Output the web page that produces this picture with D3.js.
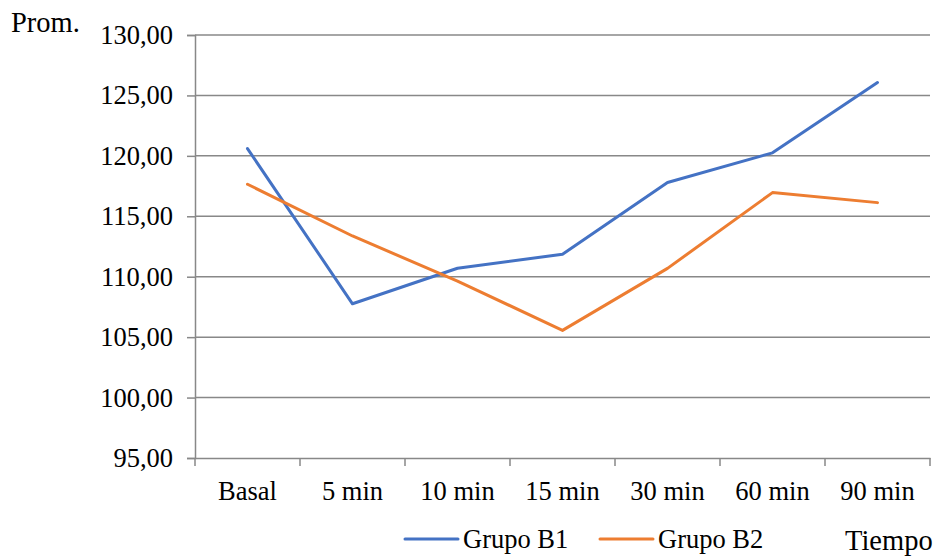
<!DOCTYPE html>
<html><head><meta charset="utf-8">
<script src="https://cdn.jsdelivr.net/npm/d3@7"></script>
<style>
html,body{margin:0;padding:0;background:#fff;}
text{font-family:"Liberation Serif","Times New Roman",serif;fill:#000;}
</style></head>
<body>
<svg id="chart" width="937" height="556"></svg>
<script>
const categories = ["Basal","5 min","10 min","15 min","30 min","60 min","90 min"];
const seriesNames = ["Grupo B1","Grupo B2"];
const grupoB1 = [120.6,107.76,110.7,111.86,117.8,120.25,126.07];
const grupoB2 = [117.65,113.37,109.64,105.56,110.69,116.96,116.13];
const yTicks = [95,100,105,110,115,120,125,130];
const colors = ["#4472C4","#ED7D31"];

(function(){
const svg = d3.select("#chart");
const pL = 195, pR = 930, pT = 35, pB = 458;
const x = d3.scaleBand().domain(categories).range([pL,pR]);
const y = d3.scaleLinear().domain([95,130]).range([pB,pT]);
const fmt = v => d3.format(".2f")(v).replace(".",",");
const gray = "#888888";
const fs = 26.5;

// gridlines
svg.append("g").selectAll("line").data(yTicks.slice(1)).join("line")
  .attr("x1",pL).attr("x2",pR)
  .attr("y1",d=>y(d)).attr("y2",d=>y(d))
  .attr("stroke",gray).attr("stroke-width",1.5);

// y axis
const ya = svg.append("g").attr("transform",`translate(${pL},0)`)
  .call(d3.axisLeft(y).tickValues(yTicks).tickFormat(fmt).tickSize(8).tickPadding(14));
ya.select(".domain").attr("stroke",gray).attr("stroke-width",1.5);
ya.selectAll(".tick line").attr("stroke",gray).attr("stroke-width",1.5);
ya.selectAll("text").attr("font-size",fs).attr("fill","#000");

// x axis
const xa = svg.append("g").attr("transform",`translate(0,${pB})`)
  .call(d3.axisBottom(x).tickSize(0).tickPadding(23));
xa.select(".domain").attr("stroke",gray).attr("stroke-width",1.5);
xa.selectAll("text").attr("font-size",fs).attr("fill","#000");
const bounds = categories.map(c=>x(c)).concat([pR]);
svg.append("g").selectAll("line").data(bounds).join("line")
  .attr("x1",d=>d).attr("x2",d=>d).attr("y1",pB).attr("y2",pB+8)
  .attr("stroke",gray).attr("stroke-width",1.5);

// lines
const line = d3.line().x((d,i)=>x(categories[i])+x.bandwidth()/2).y(d=>y(d));
[grupoB1,grupoB2].forEach((s,i)=>{
  svg.append("path").datum(s).attr("d",line).attr("fill","none")
    .attr("stroke",colors[i]).attr("stroke-width",3).attr("stroke-linejoin","round").attr("stroke-linecap","round");
});

// axis titles
svg.append("text").attr("x",11).attr("y",32).attr("font-size",28.5).text("Prom.");
svg.append("text").attr("x",845).attr("y",550).attr("font-size",28.5).text("Tiempo");

// legend
const legX = [405,600];
seriesNames.forEach((n,i)=>{
  svg.append("line").attr("x1",legX[i]).attr("x2",legX[i]+53).attr("y1",539).attr("y2",539)
    .attr("stroke",colors[i]).attr("stroke-width",3).attr("stroke-linecap","round");
  svg.append("text").attr("x",legX[i]+58).attr("y",548).attr("font-size",fs).text(n);
});
})();
</script>
</body></html>
